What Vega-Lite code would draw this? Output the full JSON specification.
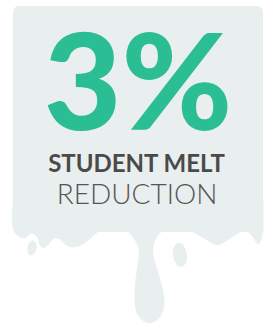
{
  "$schema": "https://vega.github.io/schema/vega-lite/v6.json",
  "width": 267,
  "height": 324,
  "padding": 0,
  "autosize": {"type": "none"},
  "background": "#ffffff",
  "config": {"view": {"stroke": null}},
  "datasets": {
    "body": [{"left": 13, "right": 263, "top": 6, "bottom": 232}],
    "outline": [
      {"i": 1, "px": 13, "py": 200},
      {"i": 2, "px": 13, "py": 228},
      {"i": 3, "px": 17, "py": 235},
      {"i": 4, "px": 25, "py": 238},
      {"i": 5, "px": 32, "py": 233},
      {"i": 6, "px": 37, "py": 237},
      {"i": 7, "px": 40, "py": 245},
      {"i": 8, "px": 43, "py": 248},
      {"i": 9, "px": 48, "py": 245},
      {"i": 10, "px": 55, "py": 238},
      {"i": 11, "px": 61, "py": 240},
      {"i": 12, "px": 66, "py": 245},
      {"i": 13, "px": 73, "py": 247},
      {"i": 14, "px": 83, "py": 244},
      {"i": 15, "px": 93, "py": 236},
      {"i": 16, "px": 103, "py": 228},
      {"i": 17, "px": 113, "py": 225},
      {"i": 18, "px": 124, "py": 228},
      {"i": 19, "px": 132, "py": 236},
      {"i": 20, "px": 138, "py": 246},
      {"i": 21, "px": 139, "py": 256},
      {"i": 22, "px": 137, "py": 270},
      {"i": 23, "px": 135, "py": 288},
      {"i": 24, "px": 135, "py": 303},
      {"i": 25, "px": 138, "py": 315},
      {"i": 26, "px": 148, "py": 323},
      {"i": 27, "px": 158, "py": 319},
      {"i": 28, "px": 163, "py": 310},
      {"i": 29, "px": 164, "py": 297},
      {"i": 30, "px": 161, "py": 283},
      {"i": 31, "px": 157, "py": 269},
      {"i": 32, "px": 153, "py": 254},
      {"i": 33, "px": 154, "py": 243},
      {"i": 34, "px": 159, "py": 234},
      {"i": 35, "px": 167, "py": 229},
      {"i": 36, "px": 177, "py": 227},
      {"i": 37, "px": 193, "py": 232},
      {"i": 38, "px": 207, "py": 240},
      {"i": 39, "px": 217, "py": 245},
      {"i": 40, "px": 226, "py": 241},
      {"i": 41, "px": 235, "py": 235},
      {"i": 42, "px": 246, "py": 231},
      {"i": 43, "px": 253, "py": 237},
      {"i": 44, "px": 258, "py": 244},
      {"i": 45, "px": 261, "py": 240},
      {"i": 46, "px": 263, "py": 230},
      {"i": 47, "px": 263, "py": 200}
    ],
    "dropA": [{"px": 32, "py": 248}],
    "dropB": [{"px": 180, "py": 255}],
    "big": [{"label": "3%"}],
    "line1": [{"label": "STUDENT MELT"}],
    "line2": [{"label": "REDUCTION"}]
  },
  "layer": [
    {
      "data": {"name": "body"},
      "mark": {"type": "rect", "color": "#e9eeee", "cornerRadius": 6},
      "encoding": {
        "x": {"field": "left", "type": "quantitative", "scale": {"domain": [0, 267]}, "axis": null},
        "x2": {"field": "right"},
        "y": {"field": "top", "type": "quantitative", "scale": {"domain": [0, 324], "reverse": true}, "axis": null},
        "y2": {"field": "bottom"}
      }
    },
    {
      "data": {"name": "outline"},
      "mark": {"type": "line", "fill": "#e9eeee", "stroke": "#e9eeee", "strokeWidth": 0.5, "interpolate": "catmull-rom"},
      "encoding": {
        "x": {"field": "px", "type": "quantitative", "scale": {"domain": [0, 267]}, "axis": null},
        "y": {"field": "py", "type": "quantitative", "scale": {"domain": [0, 324], "reverse": true}, "axis": null},
        "order": {"field": "i", "type": "quantitative"}
      }
    },
    {
      "data": {"name": "dropA"},
      "mark": {"type": "point", "filled": true, "opacity": 1, "color": "#e9eeee", "size": 225, "angle": 12, "shape": "M-0.6,0A0.6,1 0 1,1 0.6,0A0.6,1 0 1,1 -0.6,0Z"},
      "encoding": {
        "x": {"field": "px", "type": "quantitative", "scale": {"domain": [0, 267]}, "axis": null},
        "y": {"field": "py", "type": "quantitative", "scale": {"domain": [0, 324], "reverse": true}, "axis": null}
      }
    },
    {
      "data": {"name": "dropB"},
      "mark": {"type": "point", "filled": true, "opacity": 1, "color": "#e9eeee", "size": 576, "angle": -8, "shape": "M-0.58,0A0.58,1 0 1,1 0.58,0A0.58,1 0 1,1 -0.58,0Z"},
      "encoding": {
        "x": {"field": "px", "type": "quantitative", "scale": {"domain": [0, 267]}, "axis": null},
        "y": {"field": "py", "type": "quantitative", "scale": {"domain": [0, 324], "reverse": true}, "axis": null}
      }
    },
    {
      "data": {"name": "big"},
      "mark": {"type": "text", "font": "Lato", "fontWeight": 900, "fontSize": 134, "color": "#2bbd94", "align": "center", "baseline": "alphabetic"},
      "encoding": {
        "text": {"field": "label"},
        "x": {"datum": 138, "type": "quantitative", "scale": {"domain": [0, 267]}, "axis": null},
        "y": {"datum": 130, "type": "quantitative", "scale": {"domain": [0, 324], "reverse": true}, "axis": null}
      }
    },
    {
      "data": {"name": "line1"},
      "mark": {"type": "text", "font": "Lato", "fontWeight": 700, "fontSize": 24, "color": "#4a4a4a", "align": "center", "baseline": "alphabetic"},
      "encoding": {
        "text": {"field": "label"},
        "x": {"datum": 136.5, "type": "quantitative", "scale": {"domain": [0, 267]}, "axis": null},
        "y": {"datum": 172, "type": "quantitative", "scale": {"domain": [0, 324], "reverse": true}, "axis": null}
      }
    },
    {
      "data": {"name": "line2"},
      "mark": {"type": "text", "font": "Lato", "fontWeight": 300, "fontSize": 28, "color": "#555555", "align": "center", "baseline": "alphabetic"},
      "encoding": {
        "text": {"field": "label"},
        "x": {"datum": 137, "type": "quantitative", "scale": {"domain": [0, 267]}, "axis": null},
        "y": {"datum": 203.5, "type": "quantitative", "scale": {"domain": [0, 324], "reverse": true}, "axis": null}
      }
    }
  ]
}
